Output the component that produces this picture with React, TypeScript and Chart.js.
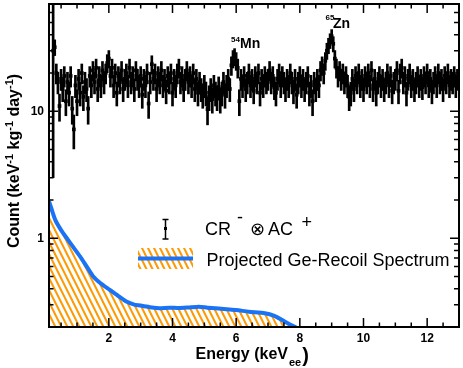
import React, { useEffect, useRef } from 'react';
import { Chart, registerables } from 'chart.js';

Chart.register(...registerables);

const FONT = '"Liberation Sans", Arial, Helvetica, sans-serif';

// ---- data: CR- (x) AC+ spectrum, 50 eV bins starting at 0.25 keV ----
const E_FIRST = 0.25;
const E_BIN = 0.05;
const counts: number[] = [
  30, 32, 20, 17, 11, 18, 15, 19, 12, 17, 14, 19, 10.5, 7.2, 16,
  12, 18, 14, 20, 13, 17, 15, 10.5, 19, 16, 21, 17, 22, 15, 19, 16, 21, 17, 20, 24,
  26, 19, 22, 16, 20, 14, 19, 17, 21, 15, 18, 20, 16, 22, 17, 19, 15, 21, 18, 16,
  19, 13.5, 18, 16, 20, 11.5, 17, 23.5, 18, 20, 15, 19, 17, 21, 16, 18, 14.5, 19, 17, 20,
  14, 18, 16, 20, 22, 17, 19, 15, 18, 21, 17, 19, 16, 20, 15, 18, 14, 17, 15, 13.5,
  16, 14, 10.4, 13, 15, 12.5, 16, 14, 13, 15.5, 12.5, 14, 17, 13.5, 16, 18, 15, 23, 26, 27,
  25, 22, 12, 18, 16, 19, 15, 17, 20, 16, 18, 14.5, 19, 17, 20, 14, 18, 16, 19, 17,
  18, 21, 17, 19, 15.5, 14, 18, 20, 16, 19, 17, 15, 18, 16, 20, 17, 14.5, 18, 13.5, 17,
  19, 16, 18, 15, 17, 19, 14, 16, 12, 17, 15, 18, 16, 21, 23, 20, 25, 30, 33, 36,
  39, 34, 26, 22, 19, 21, 18, 20, 17, 19, 16, 13, 14, 18, 15, 19, 17, 20, 16, 18,
  15, 19, 17, 20, 16, 21, 15, 18, 14, 17, 19, 16, 18, 15, 17, 20, 16, 19, 14.5, 17,
  18, 21, 14.5, 20, 22, 17, 19, 14, 18, 20, 16, 18, 15, 17, 19, 16, 18, 15.5, 19, 17,
  20, 16, 18, 14.5, 17, 19, 16, 20, 17, 18, 15, 19, 17, 20, 16, 18, 17, 19, 16, 18,
];
// Poisson-style statistical error: sigma = ERR_K * sqrt(count)
const ERR_K = 0.8;
const FIRST_ERR_LOW = 27;
const FIRST_ERR_HIGH = 80;

// ---- projected Ge-recoil spectrum ----
const recoilE: number[] = [0.12, 0.2, 0.32, 0.5, 0.68, 0.9, 1.1, 1.3, 1.51, 1.75, 2.03, 2.3, 2.55, 2.8, 3.07, 3.35, 3.59, 3.9, 4.2, 4.5, 4.83, 5.1, 5.36, 5.7, 6.0, 6.4, 6.9, 7.2, 7.43, 7.65, 7.85, 7.95];
const recoilV: number[] = [1.95, 1.7, 1.39, 1.16, 1.0, 0.84, 0.716, 0.6, 0.5, 0.44, 0.392, 0.35, 0.317, 0.3, 0.293, 0.285, 0.281, 0.284, 0.282, 0.285, 0.289, 0.284, 0.281, 0.276, 0.272, 0.264, 0.257, 0.245, 0.228, 0.212, 0.2, 0.19];

const xTickValues = [2, 4, 6, 8, 10, 12];
const yTickValues = [1, 10];
const X_MIN = 0.12, X_MAX = 13, Y_MIN = 0.2, Y_MAX = 70;

const ORANGE = '#FF9900';
const BLUE = '#1a73f5';

function makeHatch(): CanvasPattern | string {
  const tile = document.createElement('canvas');
  tile.width = 6; tile.height = 12;
  const t = tile.getContext('2d');
  if (!t) return ORANGE;
  t.strokeStyle = ORANGE; t.lineWidth = 2;
  for (const dx of [-6, 0, 6]) {
    t.beginPath(); t.moveTo(dx - 1, -2); t.lineTo(dx + 7, 14); t.stroke();
  }
  return t.createPattern(tile, 'repeat') || ORANGE;
}

const decorPlugin = {
  id: 'decor',
  afterDraw(chart: any) {
    const ctx: CanvasRenderingContext2D = chart.ctx;
    const { left, right, top, bottom } = chart.chartArea;
    const xs = chart.scales.x, ys = chart.scales.y;
    const hatch = (chart as any).$hatch;
    ctx.save();
    // ticks (inward)
    ctx.strokeStyle = '#000'; ctx.lineWidth = 1.5;
    ctx.beginPath();
    for (let k = 1; k <= 26; k++) {
      const v = k * 0.5;
      const x = xs.getPixelForValue(v);
      if (x <= left + 1 || x >= right - 1) continue;
      const len = k % 4 === 0 ? 9 : 4.5;
      ctx.moveTo(x, bottom); ctx.lineTo(x, bottom - len);
      ctx.moveTo(x, top); ctx.lineTo(x, top + len);
    }
    for (const d of [0.1, 1, 10]) {
      for (let m = 1; m <= 9; m++) {
        const v = m * d;
        if (v < Y_MIN * 0.999 || v > Y_MAX * 1.001) continue;
        const y = ys.getPixelForValue(v);
        if (y < top + 1 || y > bottom - 1) continue;
        const major = m === 1 && d !== 0.1;
        ctx.moveTo(left, y); ctx.lineTo(left + (major ? 9 : 4.5), y);
        ctx.moveTo(right, y); ctx.lineTo(right - (major ? 9 : 5), y);
      }
    }
    ctx.stroke();
    ctx.lineWidth = 2;
    ctx.strokeRect(left, top, right - left, bottom - top);

    ctx.fillStyle = '#000';
    ctx.textBaseline = 'alphabetic';
    ctx.textAlign = 'left';

    // x title
    let x0 = 195.5;
    ctx.font = `bold 16px ${FONT}`;
    ctx.fillText('Energy (keV', x0, 358.5);
    x0 += ctx.measureText('Energy (keV').width + 1;
    ctx.font = `bold 11px ${FONT}`;
    ctx.fillText('ee', x0, 366);
    x0 += ctx.measureText('ee').width + 1;
    ctx.font = `bold 20px ${FONT}`;
    ctx.fillText(')', x0, 362);

    // y title
    const parts: [string, boolean][] = [
      ['Count (keV', false], ['-1', true], [' kg', false], ['-1', true], [' day', false], ['-1', true], [')', false],
    ];
    const nf = `bold 16px ${FONT}`, sf = `bold 11px ${FONT}`;
    let total = 0;
    for (const [s, sup] of parts) { ctx.font = sup ? sf : nf; total += ctx.measureText(s).width; }
    ctx.save();
    ctx.translate(18.5, 161);
    ctx.rotate(-Math.PI / 2);
    let px = -total / 2;
    for (const [s, sup] of parts) {
      ctx.font = sup ? sf : nf;
      ctx.fillText(s, px, sup ? -6 : 0);
      px += ctx.measureText(s).width;
    }
    ctx.restore();

    // peak annotations
    ctx.font = `bold 8px ${FONT}`;
    ctx.fillText('54', 231, 41.5);
    ctx.fillText('65', 325.5, 19.5);
    ctx.font = `bold 14px ${FONT}`;
    ctx.fillText('Mn', 240, 48.3);
    ctx.fillText('Zn', 333, 28.3);

    // legend row 1: error bar symbol
    ctx.lineWidth = 1.5;
    ctx.beginPath();
    ctx.moveTo(165.5, 219.5); ctx.lineTo(165.5, 239);
    ctx.moveTo(162.5, 219.5); ctx.lineTo(168.5, 219.5);
    ctx.moveTo(162.5, 239); ctx.lineTo(168.5, 239);
    ctx.stroke();
    ctx.fillRect(164, 227, 3, 3);
    ctx.font = `18px ${FONT}`;
    ctx.fillText('CR', 205, 235);
    ctx.fillText('-', 237, 222.7);
    ctx.fillText('\u2297', 249.5, 235);
    ctx.fillText('AC', 268, 235);
    ctx.fillText('+', 301.5, 227.7);

    // legend row 2: hatched box + blue line
    ctx.fillStyle = hatch || ORANGE;
    ctx.fillRect(138, 248, 55, 21);
    ctx.strokeStyle = BLUE; ctx.lineWidth = 4;
    ctx.beginPath(); ctx.moveTo(138, 258.5); ctx.lineTo(193, 258.5); ctx.stroke();
    ctx.fillStyle = '#000';
    ctx.font = `18px ${FONT}`;
    ctx.fillText('Projected Ge-Recoil Spectrum', 206.5, 265.5);
    ctx.restore();
  },
};

export default function App() {
  const ref = useRef<HTMLCanvasElement>(null);
  useEffect(() => {
    if (!ref.current) return;
    Chart.defaults.font.family = FONT;
    const hatch = makeHatch();
    const energies = counts.map((_, i) => +(E_FIRST + i * E_BIN).toFixed(3));
    const points = counts.map((v, i) => ({ x: energies[i], y: v }));
    const bars = counts.map((v, i) => {
      const s = ERR_K * Math.sqrt(v);
      return {
        x: energies[i],
        y: i === 0 ? [v - FIRST_ERR_LOW, v + FIRST_ERR_HIGH] : [v - s, v + s],
      };
    });
    const recoil = recoilE.map((e, i) => ({ x: e, y: recoilV[i] }));
    const chart = new Chart(ref.current, {
      type: 'scatter',
      data: {
        datasets: [
          {
            type: 'scatter', label: 'CR- AC+', data: points,
            pointStyle: 'rect', pointRadius: 2.6, pointBackgroundColor: '#000', pointBorderWidth: 0,
          } as any,
          {
            type: 'bar', label: 'err', data: bars as any,
            backgroundColor: '#000', barThickness: 2, borderWidth: 0, grouped: false,
          } as any,
          {
            type: 'line', label: 'Projected Ge-Recoil Spectrum', data: recoil,
            borderColor: BLUE, borderWidth: 4, pointRadius: 0, tension: 0.2,
            fill: 'start', backgroundColor: hatch,
          } as any,
        ],
      },
      options: {
        animation: false,
        responsive: false,
        devicePixelRatio: 1,
        events: [],
        layout: { padding: { top: 1, right: 2, left: 0, bottom: 0 } },
        plugins: { legend: { display: false }, tooltip: { enabled: false } },
        scales: {
          x: {
            type: 'linear', min: X_MIN, max: X_MAX, offset: false,
            grid: { display: false, drawTicks: false },
            border: { display: false },
            afterBuildTicks: (s: any) => { s.ticks = xTickValues.map((v) => ({ value: v })); },
            afterFit: (s: any) => { s.height = 41; s.paddingLeft = 0; s.paddingRight = 0; },
            ticks: {
              padding: 4, color: '#000', maxRotation: 0, autoSkip: false,
              font: { size: 12, weight: 'bold', family: FONT },
              callback: (v: any) => String(v),
            },
          },
          y: {
            type: 'logarithmic', min: Y_MIN, max: Y_MAX,
            grid: { display: false, drawTicks: false },
            border: { display: false },
            afterBuildTicks: (s: any) => { s.ticks = yTickValues.map((v) => ({ value: v })); },
            afterFit: (s: any) => { s.width = 49; s.paddingTop = 0; s.paddingBottom = 0; },
            ticks: {
              padding: 5, color: '#000', autoSkip: false,
              font: { size: 12, weight: 'bold', family: FONT },
              callback: (v: any) => String(v),
            },
          },
        },
      } as any,
      plugins: [decorPlugin as any],
    });
    (chart as any).$hatch = hatch;
    chart.draw();
    return () => chart.destroy();
  }, []);
  return (
    <div style={{ position: 'absolute', left: 0, top: 0, width: 463, height: 368, background: '#fff' }}>
      <canvas ref={ref} width={463} height={368} style={{ width: 463, height: 368 }} />
    </div>
  );
}
